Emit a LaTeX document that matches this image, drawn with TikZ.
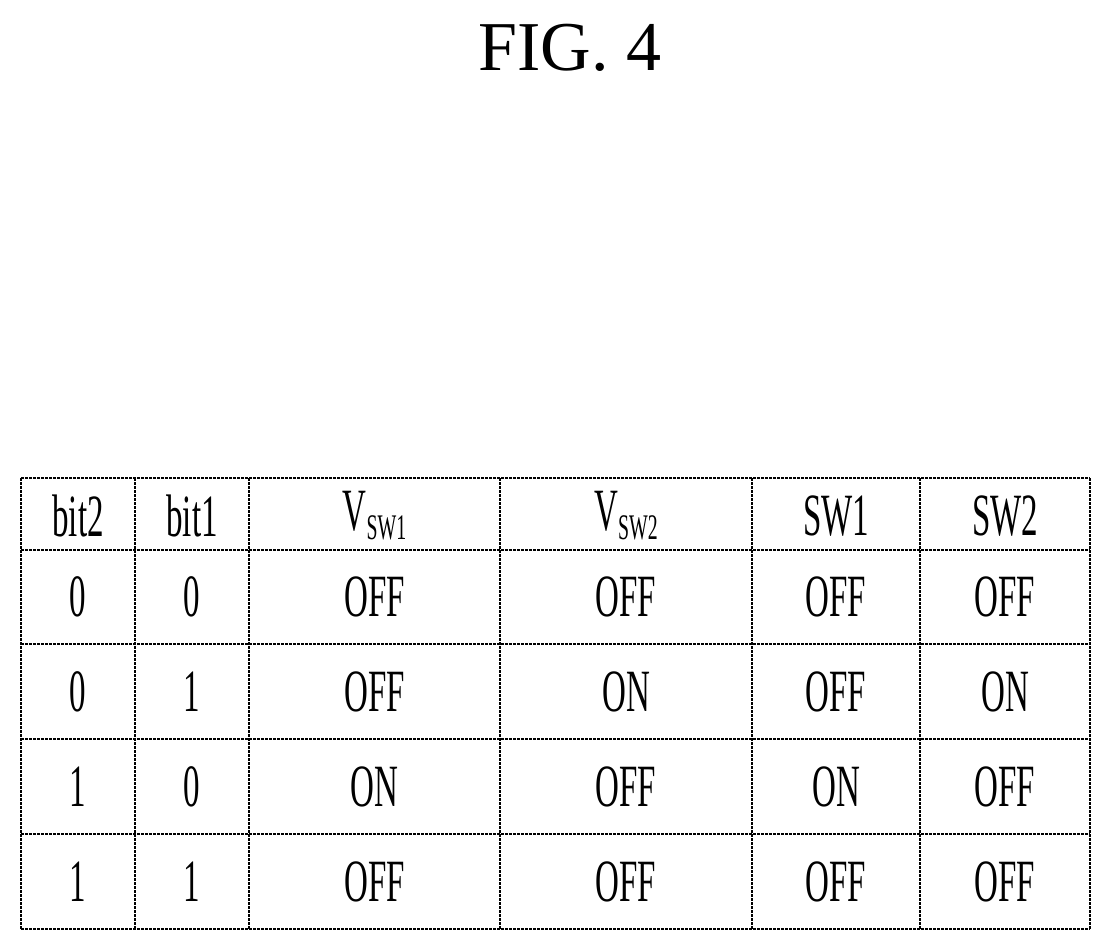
\documentclass[tikz,border=0pt]{standalone}
\usepackage{fontspec}
\setmainfont{Liberation Serif}
\begin{document}
\begin{tikzpicture}[x=1pt,y=-1pt,
 cell/.style={font=\fontsize{60}{60}\selectfont, xscale=0.55, inner sep=0},
 grid/.style={line width=1.3pt, dash pattern=on 3pt off 1pt}]
\useasboundingbox (0,0) rectangle (1111,951);
\node (title) at (570,48) {\fontsize{70}{70}\selectfont FIG. 4};
\foreach \x in {21,135,249,500,752,920,1090} \draw[grid] (\x,478) -- (\x,929);
\foreach \y in {478,550,644,739,834,929} \draw[grid] (21,\y) -- (1090,\y);
\newcommand\subsw[1]{V\raisebox{-0.15em}{\fontsize{36}{36}\selectfont SW#1}}
\foreach \t/\cx [count=\i] in {bit2/78,bit1/192,\subsw{1}/374.5,\subsw{2}/626,SW1/836,SW2/1005}
  \node[cell] (h\i) at (\cx,516) {\t};
\foreach \row/\cy [count=\r] in {{0,0,OFF,OFF,OFF,OFF}/597,{0,1,OFF,ON,OFF,ON}/691.5,{1,0,ON,OFF,ON,OFF}/786.5,{1,1,OFF,OFF,OFF,OFF}/881.5}{
  \foreach \t/\cx [count=\i] in {0/78,0/192,0/374.5,0/626,0/836,0/1005} {}
  \foreach \t [count=\i] in \row {
    \ifcase\i\or\def\cx{78}\or\def\cx{192}\or\def\cx{374.5}\or\def\cx{626}\or\def\cx{836}\or\def\cx{1005}\fi
    \node[cell] (c\r\i) at (\cx,\cy) {\t};}}
\end{tikzpicture}
\end{document}
